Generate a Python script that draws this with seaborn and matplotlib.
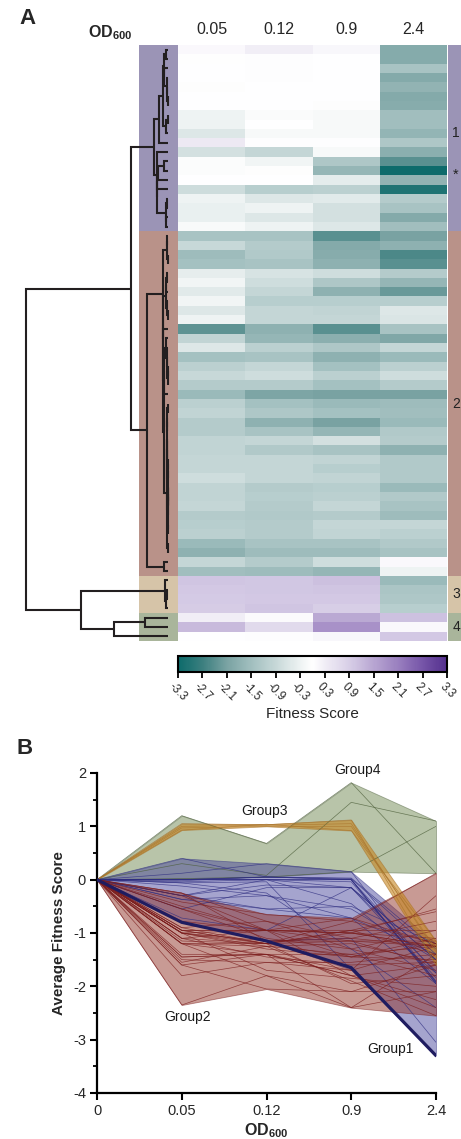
import numpy as np
import pandas as pd
import matplotlib
matplotlib.use("Agg")
import matplotlib.pyplot as plt
from matplotlib.colors import LinearSegmentedColormap
from matplotlib.ticker import MultipleLocator
import seaborn as sns

# ---------------- data ----------------
od_labels = ["0.05", "0.12", "0.9", "2.4"]
line_x_labels = ["0", "0.05", "0.12", "0.9", "2.4"]

group1 = [
    [0.12, 0.30, 0.15, -1.92],
    [-0.02, 0.05, 0.00, -1.92],
    [0.00, 0.05, 0.02, -1.40],
    [0.00, 0.05, 0.00, -1.95],
    [-0.04, 0.00, 0.00, -1.75],
    [0.00, 0.00, 0.00, -1.95],
    [0.00, 0.00, -0.04, -1.90],
    [-0.30, -0.10, -0.15, -1.50],
    [-0.30, 0.00, -0.15, -1.50],
    [-0.55, -0.15, -0.15, -1.72],
    [0.40, 0.05, 0.03, -1.30],
    [-0.72, -0.95, -0.15, -1.84],
    [-0.06, -0.25, -1.30, -2.40],
    [-0.06, -0.04, -1.69, -3.30],
    [0.00, 0.00, -0.45, -1.75],
    [-0.80, -1.15, -1.10, -3.05],
    [-0.30, -0.55, -0.50, -1.20],
    [-0.37, -0.30, -0.72, -1.40],
    [-0.37, -0.55, -0.72, -1.95],
    [-0.12, -0.30, -0.55, -1.50],
]
group2 = [
    [-1.40, -1.40, -2.40, -2.10],
    [-0.90, -1.20, -1.95, -1.80],
    [-1.55, -1.25, -1.90, -2.55],
    [-1.45, -1.40, -1.80, -2.40],
    [-0.42, -0.65, -0.78, -1.20],
    [-0.25, -0.78, -1.30, -1.70],
    [-0.50, -0.95, -1.80, -2.25],
    [-0.25, -1.15, -1.15, -1.15],
    [-0.55, -0.95, -1.00, -0.55],
    [-0.30, -0.95, -0.95, -0.60],
    [-2.35, -1.80, -2.40, -1.40],
    [-1.00, -1.70, -1.85, -2.00],
    [-0.55, -1.10, -1.30, -0.95],
    [-1.45, -1.40, -1.80, -1.60],
    [-1.10, -0.95, -1.45, -1.10],
    [-0.90, -0.78, -1.10, -0.78],
    [-1.20, -1.20, -1.45, -1.20],
    [-1.60, -2.05, -2.10, -2.10],
    [-1.10, -1.45, -1.60, -1.55],
    [-1.00, -1.30, -1.45, -1.50],
    [-1.20, -1.80, -2.10, -1.60],
    [-1.20, -1.40, -1.70, -1.25],
    [-1.00, -0.95, -0.72, -1.20],
    [-1.00, -1.25, -1.40, -1.80],
    [-0.95, -0.95, -1.00, -1.25],
    [-0.95, -0.95, -1.15, -1.25],
    [-0.78, -0.95, -1.00, -1.25],
    [-1.00, -1.20, -1.15, -1.60],
    [-1.00, -1.15, -1.10, -1.25],
    [-0.95, -1.20, -0.95, -1.40],
    [-1.20, -1.25, -1.20, -1.55],
    [-1.15, -1.20, -0.95, -0.95],
    [-1.10, -1.20, -1.00, -1.10],
    [-1.60, -1.40, -1.40, -1.25],
    [-1.80, -1.55, -1.55, -1.40],
    [-0.95, -1.20, -0.78, 0.12],
    [-1.50, -1.55, -1.70, -0.30],
]
group3 = [
    [1.05, 1.03, 1.12, -1.60],
    [1.00, 1.02, 1.05, -1.35],
    [0.97, 1.00, 1.00, -1.30],
    [0.93, 1.04, 0.92, -1.15],
]
group4 = [
    [0.30, 0.08, 1.45, 1.10],
    [1.20, 0.68, 1.82, 0.12],
    [0.02, 0.05, 0.15, 1.00],
]
starred_profile = [0.0, -0.80, -1.15, -1.65, -3.30]

group_ids = ["1", "2", "3", "4"]
group_names = ["Group1", "Group2", "Group3", "Group4"]
# dendrogram merge heights: (split row, group merge height, upper sub-cluster height, lower sub-cluster height)
group1_tree = (11, 14, 9, 11)
group2_tree = (35, 21, 5, 4)
group3_tree = (None, 3, 3, 0)
group4_tree = (2, 54, 23, 0)
pair_heights = [37, 87]
root_height = 142
cbar_ticks = [-3.3, -2.7, -2.1, -1.5, -0.9, -0.3, 0.3, 0.9, 1.5, 2.1, 2.7, 3.3]

# ---------------- styles ----------------
strip_colors = ["#9b94b6", "#b99289", "#d6c4a8", "#a9b59b"]
fill_colors = ["#44429a", "#93362b", "#c7861f", "#6b844c"]
fill_alpha = [0.48, 0.5, 0.6, 0.48]
line_colors = ["#2e2d80", "#7c1e1e", "#a9742c", "#4b5d38"]

sns.set_theme(style="ticks")
plt.rcParams["font.family"] = ["Liberation Sans", "DejaVu Sans"]
plt.rcParams["axes.unicode_minus"] = False
plt.rcParams["mathtext.fontset"] = "custom"
plt.rcParams["mathtext.rm"] = "Liberation Sans"
plt.rcParams["mathtext.bf"] = "Liberation Sans:bold"

W, H = 461, 1139
fig = plt.figure(figsize=(W / 100, H / 100), dpi=100)


def fax(x0, y0, x1, y1):
    return fig.add_axes([x0 / W, 1 - y1 / H, (x1 - x0) / W, (y1 - y0) / H])


groups = [group1, group2, group3, group4]
trees = [group1_tree, group2_tree, group3_tree, group4_tree]
all_rows = [r for g in groups for r in g]
n_rows = len(all_rows)
sizes = [len(g) for g in groups]
starts = np.cumsum([0] + sizes[:-1])

cmap = LinearSegmentedColormap.from_list(
    "fit",
    [((v + 3.3) / 6.6, c) for v, c in [
        (-3.3, "#0d6b6b"), (-2.7, "#3c7f7f"), (-2.1, "#7aa3a3"), (-1.5, "#a2bfbf"),
        (-0.9, "#c7d8d8"), (-0.3, "#eef3f3"), (0.0, "#ffffff"), (0.3, "#f1eef6"),
        (0.9, "#d8cfe7"), (1.5, "#b8a6d2"), (2.1, "#9a80bf"), (2.7, "#7655a8"),
        (3.3, "#54308e")]])

# ---------------- heatmap ----------------
hm_top, hm_bot = 45, 641
ax_hm = fax(178, hm_top, 447, hm_bot)
ax_cb = fax(178, 656, 447, 672)
df = pd.DataFrame(all_rows, columns=od_labels)
sns.heatmap(df, ax=ax_hm, cmap=cmap, vmin=-3.3, vmax=3.3, cbar_ax=ax_cb,
            cbar_kws={"orientation": "horizontal", "ticks": cbar_ticks},
            xticklabels=od_labels, yticklabels=False)
ax_hm.xaxis.tick_top()
ax_hm.tick_params(axis="x", length=0, pad=6, labelsize=11.5, top=False, bottom=False)
ax_hm.set_xlabel("")
ax_hm.set_ylabel("")

cbar = ax_hm.collections[0].colorbar
cbar.outline.set_linewidth(1.5)
cbar.outline.set_edgecolor("black")
cbar.ax.tick_params(direction="out", length=4, width=1.3, labelsize=8.5, pad=2, color="black")
cbar.ax.set_xticklabels([f"{t:.1f}" for t in cbar_ticks], rotation=-45, ha="center", va="top")
fig.text(312.5 / W, 1 - 714 / H, "Fitness Score", ha="center", va="center", fontsize=11)

# ---------------- dendrogram + left strip ----------------
ax_d = fax(0, hm_top, 178, hm_bot)
ax_d.set_xlim(168, -10)
ax_d.set_ylim(n_rows, 0)
ax_d.axis("off")
for s, n, c in zip(starts, sizes, strip_colors):
    ax_d.barh(s + n / 2, 39, left=-10, height=n, color=c, lw=0)

dcol = "#231f20"
dlw = 1.5


def draw_link(a, b, h):
    ax_d.plot([a[1], h, h, b[1]], [a[0], a[0], b[0], b[0]], color=dcol, lw=dlw,
              solid_joinstyle="miter", solid_capstyle="butt")
    return ((a[0] + b[0]) / 2, h)


def subtree(vals, offset, top_h, power=2.0):
    vals = np.asarray(vals)
    clusters = [dict(idx=[i], y=offset + i + 0.5, h=0.0) for i in range(len(vals))]
    if len(clusters) == 1:
        return (clusters[0]["y"], 0.0)
    merges = []
    while len(clusters) > 1:
        dists = []
        for a, b in zip(clusters[:-1], clusters[1:]):
            dists.append(np.mean([np.linalg.norm(vals[i] - vals[j])
                                  for i in a["idx"] for j in b["idx"]]))
        k = int(np.argmin(dists))
        a, b = clusters[k], clusters[k + 1]
        h = max(dists[k], a["h"], b["h"])
        merges.append(((a["y"], a["h"]), (b["y"], b["h"]), h))
        clusters[k:k + 2] = [dict(idx=a["idx"] + b["idx"], y=(a["y"] + b["y"]) / 2, h=h)]
    top_raw = clusters[0]["h"] if clusters[0]["h"] > 0 else 1.0
    sc = lambda v: top_h * (v / top_raw) ** power
    for a, b, h in merges:
        draw_link((a[0], sc(a[1])), (b[0], sc(b[1])), sc(h))
    return (clusters[0]["y"], top_h)


def group_node(vals, offset, tree):
    split, h, h_up, h_low = tree
    if split is None:
        return subtree(vals, offset, h, power=1.0)
    a = subtree(vals[:split], offset, h_up)
    b = subtree(vals[split:], offset + split, h_low)
    return draw_link(a, b, h)


nodes = [group_node(g, s, t) for g, s, t in zip(groups, starts, trees)]
n12 = draw_link(nodes[0], nodes[1], pair_heights[0])
n34 = draw_link(nodes[2], nodes[3], pair_heights[1])
draw_link(n12, n34, root_height)

# ---------------- right strip ----------------
ax_r = fax(448, hm_top, 461, hm_bot)
ax_r.set_xlim(0, 1)
ax_r.set_ylim(n_rows, 0)
ax_r.axis("off")
for s, n, c, gid in zip(starts, sizes, strip_colors, group_ids):
    ax_r.barh(s + n / 2, 1, left=0, height=n, color=c, lw=0)
    ty = s + n / 2 if gid != "1" else s + 9.5
    ax_r.text(0.62, ty, gid, ha="center", va="center", fontsize=10, color="#222222")
ax_r.text(0.62, starts[0] + 13.9, "*", ha="center", va="center", fontsize=10.5, color="#222222")

fig.text(88 / W, 1 - 33 / H, r"$\mathbf{OD_{600}}$", ha="left", va="center", fontsize=11.5)
fig.text(19 / W, 1 - 18 / H, "A", ha="left", va="center", fontsize=16, fontweight="bold")
fig.text(17 / W, 1 - 749 / H, "B", ha="left", va="center", fontsize=16, fontweight="bold")

# ---------------- panel B ----------------
ax_b = fax(97, 773, 436, 1093)
xs = np.arange(len(line_x_labels))
draw_order = [3, 0, 1, 2]
for gi in draw_order:
    prof = np.array([[0.0] + list(r) for r in groups[gi]])
    ax_b.fill_between(xs, prof.min(axis=0), prof.max(axis=0), color=fill_colors[gi],
                      alpha=fill_alpha[gi], lw=0.6, edgecolor=line_colors[gi])
    long = pd.DataFrame([(g, x, v) for g, row in enumerate(prof) for x, v in zip(xs, row)],
                        columns=["gene", "pos", "score"])
    sns.lineplot(data=long, x="pos", y="score", units="gene", estimator=None,
                 color=line_colors[gi], lw=0.5, alpha=0.75, ax=ax_b, legend=False)
sns.lineplot(x=xs, y=starred_profile, color="#1f1c60", lw=2.3, ax=ax_b, legend=False, zorder=6)

label_pos = [(3.46, -3.17), (1.07, -2.57), (1.98, 1.29), (3.07, 2.05)]
for (tx, ty), name in zip(label_pos, group_names):
    ax_b.text(tx, ty, name, ha="center", va="center", fontsize=10, color="#1a1a1a")

ax_b.set_xlim(0, 4)
ax_b.set_ylim(-4, 2)
ax_b.set_xticks(xs)
ax_b.set_xticklabels(line_x_labels)
ax_b.set_yticks(range(-4, 3))
ax_b.yaxis.set_minor_locator(MultipleLocator(0.5))
ax_b.tick_params(axis="both", which="major", direction="out", length=5, width=1.5,
                 labelsize=10.5, color="black", pad=3)
ax_b.tick_params(axis="y", which="minor", direction="out", length=3, width=1.3, color="black")
for sp in ["left", "bottom"]:
    ax_b.spines[sp].set_linewidth(1.6)
    ax_b.spines[sp].set_color("black")
ax_b.spines["top"].set_visible(False)
ax_b.spines["right"].set_visible(False)
ax_b.spines["left"].set_bounds(-4, 2)
ax_b.set_ylabel("Average Fitness Score", fontsize=11, fontweight="bold", labelpad=5)
ax_b.set_xlabel(r"$\mathbf{OD_{600}}$", fontsize=11.5, labelpad=2)

fig.savefig("out.png", dpi=100)
